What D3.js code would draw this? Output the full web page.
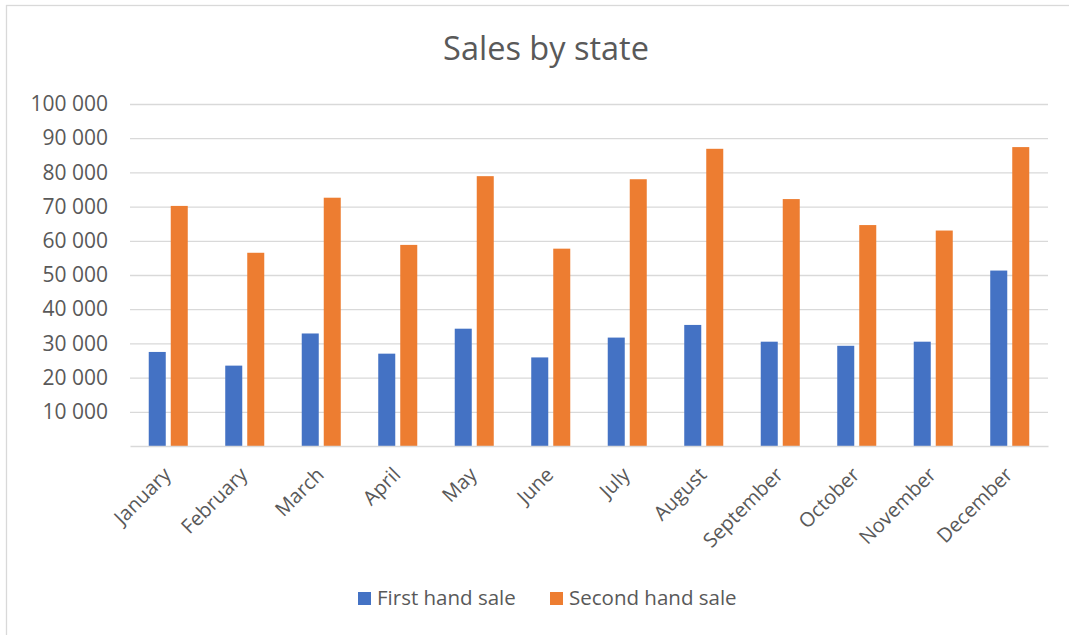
<!DOCTYPE html>
<html>
<head>
<meta charset="utf-8">
<script src="https://cdn.jsdelivr.net/npm/d3@7"></script>
<style>
  html, body { margin: 0; padding: 0; background: #fff; }
  svg { display: block; }
  text { font-family: "Open Sans", "Noto Sans", sans-serif; fill: #595959; }
</style>
</head>
<body>
<svg id="chart" width="1069" height="635"></svg>
<script>
const categories = ["January","February","March","April","May","June","July","August","September","October","November","December"];
const seriesNames = ["First hand sale","Second hand sale"];
const firstHand = [27500, 23500, 32900, 27000, 34300, 25900, 31700, 35400, 30500, 29300, 30500, 51300];
const secondHand = [70200, 56500, 72600, 58800, 78900, 57700, 78000, 86900, 72200, 64600, 63000, 87400];
const tickValues = [10000, 20000, 30000, 40000, 50000, 60000, 70000, 80000, 90000, 100000];
const title = "Sales by state";
const colors = ["#4472C4", "#ED7D31"];

(function () {
const svg = d3.select("#chart");
svg.append("rect").attr("x",0).attr("y",0).attr("width",1069).attr("height",635).attr("fill","#fff");
svg.append("rect").attr("x",6.5).attr("y",5.5).attr("width",1080).attr("height",650)
   .attr("fill","none").attr("stroke","#d9d9d9").attr("stroke-width",1.3);

const pLeft = 130, pRight = 1048, pTop = 104, pBottom = 446;
const x = d3.scaleBand().domain(categories).range([pLeft, pRight]).padding(0);
const y = d3.scaleLinear().domain([0, 100000]).range([pBottom, pTop]);
const bw = x.bandwidth();
const xs = d3.scaleBand().domain(seriesNames).range([bw*0.245, bw*0.755]).paddingInner(0.227).paddingOuter(0);

// gridlines
const yAxis = d3.axisLeft(y).tickValues(tickValues).tickSize(-(pRight-pLeft)).tickPadding(22)
  .tickFormat(d => d3.format(",")(d).replace(/,/g, " "));
const gy = svg.append("g").attr("transform", `translate(${pLeft},0)`).call(yAxis);
gy.select(".domain").remove();
gy.selectAll(".tick line").attr("stroke","#d9d9d9").attr("stroke-width",1.3);
gy.selectAll(".tick text").attr("font-size",21).attr("fill","#595959")
  .style("font-family",'"Open Sans", sans-serif');

// bars
const data = [firstHand, secondHand];
seriesNames.forEach((s, si) => {
  svg.append("g").selectAll("rect").data(categories).join("rect")
    .attr("x", (c) => x(c) + xs(s))
    .attr("width", xs.bandwidth())
    .attr("y", (c, i) => y(data[si][i]))
    .attr("height", (c, i) => y(0) - y(data[si][i]))
    .attr("fill", colors[si]);
});

// x axis
const xAxis = d3.axisBottom(x).tickSize(0).tickPadding(0);
const gx = svg.append("g").attr("transform", `translate(0,${pBottom})`).call(xAxis);
gx.select(".domain").attr("stroke","#d9d9d9").attr("stroke-width",1.5);
gx.selectAll(".tick text")
  .attr("font-size",20).attr("fill","#595959")
  .style("font-family",'"Open Sans", sans-serif')
  .attr("text-anchor","end")
  .attr("transform","translate(-1,25) rotate(-45)")
  .attr("dy","0.35em").attr("y",0).attr("x",0);

// title
svg.append("text").attr("x",546).attr("y",60).attr("text-anchor","middle")
  .attr("font-size",32.5).text(title);

// legend
const legendX = [358, 550];
seriesNames.forEach((s, i) => {
  svg.append("rect").attr("x", legendX[i]).attr("y", 592).attr("width", 13).attr("height", 13).attr("fill", colors[i]);
  svg.append("text").attr("x", legendX[i] + 19).attr("y", 605).attr("font-size", 20.5).text(s);
});
})();
</script>
</body>
</html>
